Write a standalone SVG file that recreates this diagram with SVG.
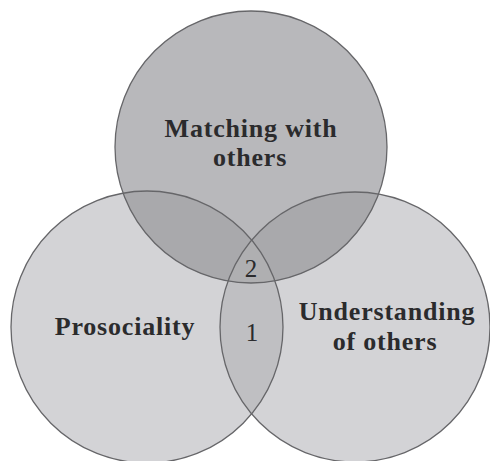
<svg xmlns="http://www.w3.org/2000/svg" width="490" height="461" viewBox="0 0 490 461">
  <style>
    .label { font-family: "Liberation Serif", "Times New Roman", serif; font-weight: bold; font-size: 26px; fill: #2b2b2d; text-anchor: middle; letter-spacing: 0.8px; }
    .num { font-family: "Liberation Serif", "Times New Roman", serif; font-size: 25px; fill: #2b2b2d; text-anchor: middle; }
    .outline { fill: none; stroke: #666669; stroke-width: 1.3; }
  </style>
  <defs>
    <circle id="c-top" cx="251" cy="147" r="136"/>
    <circle id="c-left" cx="147" cy="327" r="136"/>
    <circle id="c-right" cx="355" cy="327" r="135"/>
    <clipPath id="clip-left"><use href="#c-left"/></clipPath>
    <clipPath id="clip-right"><use href="#c-right"/></clipPath>
    <clipPath id="clip-top"><use href="#c-top"/></clipPath>
  </defs>

  <rect width="490" height="461" fill="#ffffff"/>

  <!-- base fills -->
  <g id="fills">
    <use href="#c-left" fill="#d3d3d6"/>
    <use href="#c-right" fill="#d3d3d6"/>
    <use href="#c-top" fill="#b8b8bb"/>
    <!-- lens between the two lower circles -->
    <use href="#c-right" fill="#bfbfc2" clip-path="url(#clip-left)"/>
    <!-- overlaps with the upper circle -->
    <g clip-path="url(#clip-top)">
      <use href="#c-left" fill="#a9a9ac"/>
      <use href="#c-right" fill="#a9a9ac"/>
      <g clip-path="url(#clip-left)">
        <use href="#c-right" fill="#afafb1"/>
      </g>
    </g>
  </g>

  <g id="node-matching">
    <use href="#c-top" class="outline"/>
    <text class="label" x="251" y="137">Matching with</text>
    <text class="label" x="250" y="166">others</text>
  </g>

  <g id="node-prosociality">
    <use href="#c-left" class="outline"/>
    <text class="label" x="125" y="335">Prosociality</text>
  </g>

  <g id="node-understanding">
    <use href="#c-right" class="outline"/>
    <text class="label" x="387" y="320">Understanding</text>
    <text class="label" x="385" y="350">of others</text>
  </g>

  <g id="region-labels">
    <text class="num" x="251" y="277">2</text>
    <text class="num" x="252" y="341">1</text>
  </g>
</svg>
